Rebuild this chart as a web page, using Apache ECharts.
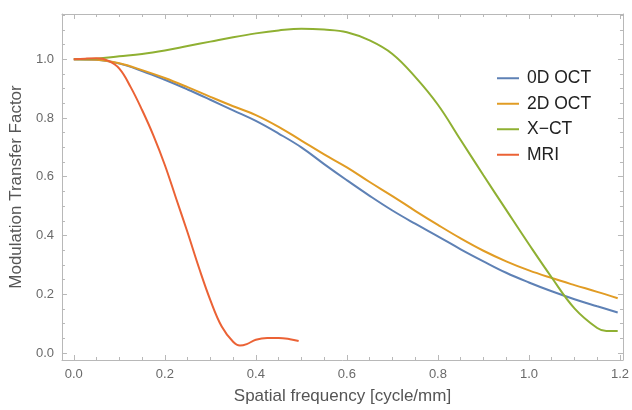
<!DOCTYPE html>
<html>
<head>
<meta charset="utf-8">
<script src="https://cdn.jsdelivr.net/npm/echarts@6/dist/echarts.min.js"></script>
<style>
html,body{margin:0;padding:0;background:#fff;}
#chart{width:632px;height:410px;}
</style>
</head>
<body>
<div id="chart"></div>
<script>
// ---- data ----
const seriesNames = ['0D OCT', '2D OCT', 'X\u2212CT', 'MRI'];
const octX = [0, 0.05, 0.1, 0.15, 0.2, 0.25, 0.3, 0.35, 0.4, 0.45, 0.5, 0.55, 0.6, 0.65, 0.7, 0.75, 0.8, 0.85, 0.9, 0.95, 1.0, 1.05, 1.1, 1.15, 1.195];
const oct0Y = [1.0, 0.998, 0.985, 0.96, 0.93, 0.897, 0.862, 0.826, 0.79, 0.747, 0.70, 0.643, 0.588, 0.535, 0.485, 0.44, 0.397, 0.353, 0.312, 0.273, 0.24, 0.21, 0.183, 0.159, 0.138];
const oct2Y = [1.0, 0.998, 0.986, 0.963, 0.936, 0.905, 0.872, 0.84, 0.81, 0.77, 0.723, 0.676, 0.632, 0.582, 0.534, 0.484, 0.436, 0.39, 0.348, 0.312, 0.281, 0.255, 0.231, 0.208, 0.186];
const xctX = [0, 0.05, 0.1, 0.15, 0.2, 0.25, 0.3, 0.35, 0.4, 0.45, 0.5, 0.55, 0.6, 0.65, 0.7, 0.75, 0.8, 0.85, 0.9, 0.95, 1.0, 1.05, 1.1, 1.15, 1.17, 1.195];
const xctY = [1.0, 1.002, 1.01, 1.018, 1.03, 1.045, 1.06, 1.075, 1.088, 1.098, 1.104, 1.101, 1.092, 1.064, 1.018, 0.94, 0.845, 0.725, 0.605, 0.487, 0.37, 0.257, 0.152, 0.085, 0.075, 0.075];
const mriX = [0, 0.025, 0.05, 0.075, 0.1, 0.125, 0.15, 0.175, 0.2, 0.225, 0.25, 0.275, 0.3, 0.325, 0.35, 0.365, 0.38, 0.4, 0.425, 0.45, 0.475, 0.494];
const mriY = [1.0, 1.002, 1.003, 0.995, 0.968, 0.905, 0.827, 0.74, 0.64, 0.525, 0.41, 0.29, 0.18, 0.09, 0.038, 0.025, 0.03, 0.045, 0.051, 0.051, 0.047, 0.041];
const xMajor = [0, 0.2, 0.4, 0.6, 0.8, 1.0, 1.2];
const xMinor = [0.05, 0.1, 0.15, 0.25, 0.3, 0.35, 0.45, 0.5, 0.55, 0.65, 0.7, 0.75, 0.85, 0.9, 0.95, 1.05, 1.1, 1.15];
const yMajor = [0, 0.2, 0.4, 0.6, 0.8, 1.0];
const yMinor = [0.05, 0.1, 0.15, 0.25, 0.3, 0.35, 0.45, 0.5, 0.55, 0.65, 0.7, 0.75, 0.85, 0.9, 0.95, 1.05, 1.1, 1.15];
const colors = ['#5E81B5', '#E19C24', '#8FB032', '#EB6235'];

function pairs(xs, ys) { return xs.map((x, i) => [x, ys[i]]); }

const XMIN = -0.026, XMAX = 1.2066, YMIN = -0.024, YMAX = 1.154;
const frameColor = '#b8b8b8';
const labelColor = '#6a6a6a';
const fontFam = '"Liberation Sans", Arial, sans-serif';

function mkAxis(kind, pos, vals, len, labels, line, extra) {
  return Object.assign({
    type: 'value', position: pos,
    min: kind === 'x' ? XMIN : YMIN, max: kind === 'x' ? XMAX : YMAX,
    axisLine: { show: line, onZero: false, lineStyle: { color: frameColor, width: 1 } },
    axisTick: { show: true, inside: true, length: len, customValues: vals, lineStyle: { color: frameColor } },
    axisLabel: labels ? { show: true, customValues: vals, color: labelColor, fontSize: 13, fontFamily: fontFam, margin: 8,
      formatter: v => v.toFixed(1) } : { show: false },
    splitLine: { show: false }
  }, extra || {});
}

const chart = echarts.init(document.getElementById('chart'), null, { renderer: 'canvas' });
const option = {
  animation: false,
  backgroundColor: '#ffffff',
  grid: { left: 61, right: 9, top: 14, bottom: 49, containLabel: false },
  legend: {
    orient: 'vertical', left: 497, top: 68, padding: 0,
    itemWidth: 22, itemHeight: 2, itemGap: 5,
    icon: 'rect',
    data: seriesNames,
    textStyle: { fontSize: 17.5, color: '#222', fontFamily: fontFam, lineHeight: 20.5, padding: [0, 0, 0, 3] }
  },
  xAxis: [
    mkAxis('x', 'bottom', xMajor, 5, true, true, {
      name: 'Spatial frequency [cycle/mm]', nameLocation: 'middle', nameGap: 28,
      nameTextStyle: { fontSize: 17, color: '#555', fontFamily: fontFam }
    }),
    mkAxis('x', 'bottom', xMinor, 3, false, false),
    mkAxis('x', 'top', xMajor, 5, false, true),
    mkAxis('x', 'top', xMinor, 3, false, false)
  ],
  yAxis: [
    mkAxis('y', 'left', yMajor, 5, true, true, {
      name: 'Modulation Transfer Factor', nameLocation: 'middle', nameGap: 30,
      nameTextStyle: { fontSize: 17, color: '#555', fontFamily: fontFam }
    }),
    mkAxis('y', 'left', yMinor, 3, false, false),
    mkAxis('y', 'right', yMajor, 5, false, true),
    mkAxis('y', 'right', yMinor, 3, false, false)
  ],
  series: [
    { name: seriesNames[0], data: pairs(octX, oct0Y), color: colors[0] },
    { name: seriesNames[1], data: pairs(octX, oct2Y), color: colors[1] },
    { name: seriesNames[2], data: pairs(xctX, xctY), color: colors[2] },
    { name: seriesNames[3], data: pairs(mriX, mriY), color: colors[3] }
  ].map(s => Object.assign({
    type: 'line', xAxisIndex: 0, yAxisIndex: 0, smooth: 0.4, showSymbol: false, symbol: 'none',
    lineStyle: { width: 2, color: s.color }, itemStyle: { color: s.color }
  }, s))
};
chart.setOption(option);
</script>
</body>
</html>
